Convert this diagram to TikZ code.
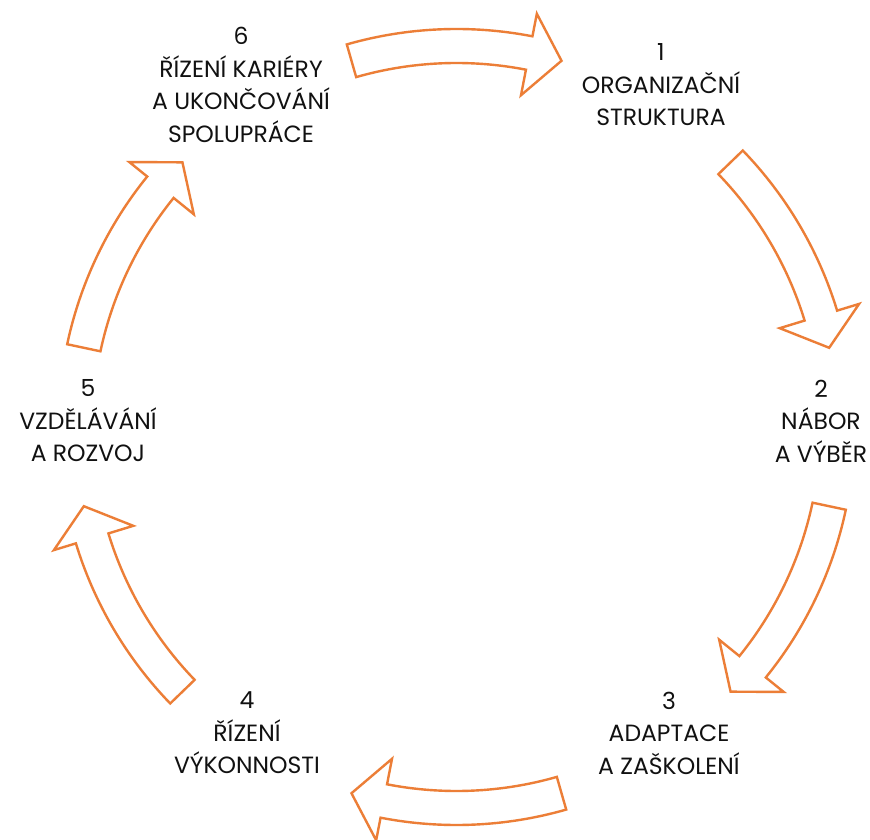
\documentclass[tikz,border=0pt]{standalone}
\usepackage{fontspec}
\setmainfont{Poppins}
\definecolor{arrorange}{RGB}{236,126,55}
\definecolor{txt}{RGB}{17,17,17}
\begin{document}
\begin{tikzpicture}[x=1pt,y=1pt,
  ringarrow/.style={draw=arrorange, line width=2.4pt, fill=white, line join=miter},
  lbl/.style={align=center, text=txt, font=\fontsize{23.5}{32.5}\selectfont, inner sep=0pt}]
\useasboundingbox (0,0) rectangle (870,839);
\fill[white] (0,0) rectangle (870,839);
\begin{scope}[shift={(456.5,412)}]
\foreach \m in {90,28,-28,-90,-152,152}{
  \pgfmathsetmacro\ta{\m+16}
  \pgfmathsetmacro\tb{\m-11}
  \pgfmathsetmacro\tc{\m-16}
  \draw[ringarrow] (\ta:398pt) arc[start angle=\ta, end angle=\tb, radius=398pt]
     -- (\tb:421pt) -- (\tc:381pt) -- (\tb:338pt) -- (\tb:364pt)
     arc[start angle=\tb, end angle=\ta, radius=364pt] -- cycle;
}
\end{scope}
\node[lbl] (l1) at (661,754) {1\\ORGANIZAČNÍ\\STRUKTURA};
\node[lbl] (l2) at (821,418) {2\\NÁBOR\\A VÝBĚR};
\node[lbl] (l3) at (669,106) {3\\ADAPTACE\\A ZAŠKOLENÍ};
\node[lbl] (l4) at (247,106) {4\\ŘÍZENÍ\\VÝKONNOSTI};
\node[lbl] (l5) at (88,418) {5\\VZDĚLÁVÁNÍ\\A ROZVOJ};
\node[lbl] (l6) at (241,754) {6\\ŘÍZENÍ KARIÉRY\\A UKONČOVÁNÍ\\SPOLUPRÁCE};
\end{tikzpicture}
\end{document}
